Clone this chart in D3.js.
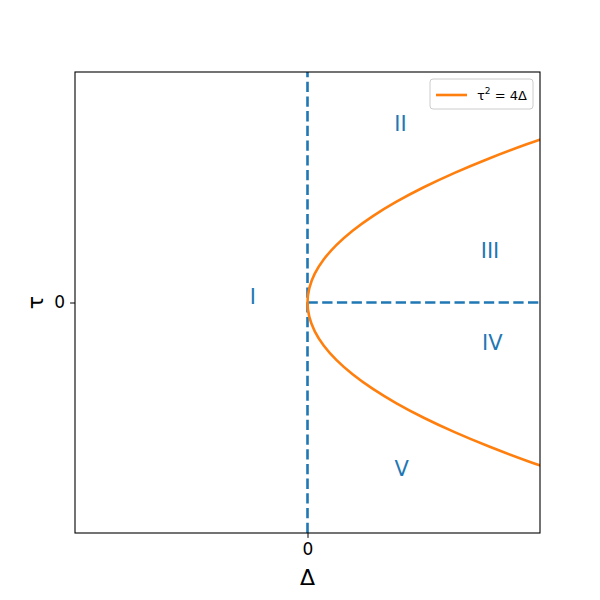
<!DOCTYPE html>
<html>
<head>
<meta charset="utf-8">
<script src="https://cdn.jsdelivr.net/npm/d3@7"></script>
<style>
  body { margin: 0; background: #fff; }
  text { font-family: "DejaVu Sans", sans-serif; }
</style>
</head>
<body>
<svg id="chart" width="600" height="600"></svg>
<script>
// axis domains and ticks
const deltaDomain = [-2, 2];
const tauDomain = [-4, 4];
const xTicks = [0];
const yTicks = [0];

// region labels with their (delta, tau) positions
const regionNames = ["I", "II", "III", "IV", "V"];
const regionDelta = [-0.47, 0.8, 1.57, 1.59, 0.81];
const regionTau = [0.1, 3.1, 0.9, -0.7, -2.88];

// tau sample points for the curve tau^2 = 4*delta
const curveTau = [-4, -3.75, -3.5, -3.25, -3, -2.75, -2.5, -2.25, -2, -1.75, -1.5,
  -1.25, -1, -0.75, -0.5, -0.25, 0, 0.25, 0.5, 0.75, 1, 1.25, 1.5, 1.75, 2,
  2.25, 2.5, 2.75, 3, 3.25, 3.5, 3.75, 4];

const svg = d3.select("#chart");
const margin = { top: 72, right: 60, bottom: 67, left: 75 };
const width = 600;
const height = 600;

const x = d3.scaleLinear()
  .domain(deltaDomain)
  .range([margin.left, width - margin.right]);

const y = d3.scaleLinear()
  .domain(tauDomain)
  .range([height - margin.bottom, margin.top]);

const blue = "#1f77b4";
const orange = "#ff7f0e";

svg.append("clipPath")
  .attr("id", "clip")
  .append("rect")
  .attr("x", margin.left)
  .attr("y", margin.top)
  .attr("width", width - margin.left - margin.right)
  .attr("height", height - margin.top - margin.bottom);

const inner = svg.append("g").attr("clip-path", "url(#clip)");

// dashed lines: delta = 0, and tau = 0 for delta > 0
inner.append("line")
  .attr("x1", x(0)).attr("x2", x(0))
  .attr("y1", y(tauDomain[0])).attr("y2", y(tauDomain[1]))
  .attr("stroke", blue)
  .attr("stroke-width", 2.6)
  .attr("stroke-dasharray", "10.3,4.4");

inner.append("line")
  .attr("x1", x(0)).attr("x2", x(deltaDomain[1]))
  .attr("y1", y(0)).attr("y2", y(0))
  .attr("stroke", blue)
  .attr("stroke-width", 2.6)
  .attr("stroke-dasharray", "10.3,4.4");

// parabola
const line = d3.line()
  .x((t) => x((t * t) / 4))
  .y((t) => y(t))
  .curve(d3.curveCatmullRom.alpha(0.5));

inner.append("path")
  .datum(curveTau)
  .attr("d", line)
  .attr("fill", "none")
  .attr("stroke", orange)
  .attr("stroke-width", 2.6);

// region labels
inner.selectAll(".region")
  .data(regionNames)
  .join("text")
  .attr("class", "region")
  .attr("x", (d, i) => x(regionDelta[i]))
  .attr("y", (d, i) => y(regionTau[i]))
  .attr("dy", "0.36em")
  .attr("text-anchor", "middle")
  .attr("fill", blue)
  .style("font-size", "21px")
  .text((d) => d);

// axes
svg.append("g")
  .attr("transform", `translate(0,${height - margin.bottom})`)
  .call(d3.axisBottom(x).tickValues(xTicks).tickFormat(d3.format("d")).tickSizeOuter(0).tickSize(4.9).tickPadding(5))
  .call((g) => g.select(".domain").remove())
  .call((g) => g.selectAll("text").style("font-size", "17px").attr("fill", "#000").attr("font-family", "DejaVu Sans"));

svg.append("g")
  .attr("transform", `translate(${margin.left},0)`)
  .call(d3.axisLeft(y).tickValues(yTicks).tickFormat(d3.format("d")).tickSizeOuter(0).tickSize(4.9).tickPadding(5))
  .call((g) => g.select(".domain").remove())
  .call((g) => g.selectAll("text").style("font-size", "17px").attr("fill", "#000").attr("font-family", "DejaVu Sans"));

// frame
svg.append("rect")
  .attr("x", margin.left)
  .attr("y", margin.top)
  .attr("width", width - margin.left - margin.right)
  .attr("height", height - margin.top - margin.bottom)
  .attr("fill", "none")
  .attr("stroke", "#000")
  .attr("stroke-width", 1.1);

// axis labels
svg.append("text")
  .attr("x", x(0))
  .attr("y", 585)
  .attr("text-anchor", "middle")
  .style("font-size", "22px")
  .text("Δ");

svg.append("text")
  .attr("transform", `translate(43,${y(0)}) rotate(-90)`)
  .attr("text-anchor", "middle")
  .style("font-size", "22px")
  .text("τ");

// legend
const legend = svg.append("g").attr("transform", "translate(430,79)");
legend.append("rect")
  .attr("width", 103)
  .attr("height", 30)
  .attr("rx", 3)
  .attr("fill", "#fff")
  .attr("stroke", "#ccc");
legend.append("line")
  .attr("x1", 6).attr("x2", 37)
  .attr("y1", 16).attr("y2", 16)
  .attr("stroke", orange)
  .attr("stroke-width", 2.6);
const lt = legend.append("text")
  .attr("x", 47)
  .attr("y", 21)
  .style("font-size", "13px");
lt.append("tspan").text("τ");
lt.append("tspan").attr("dy", -6).style("font-size", "9px").text("2");
lt.append("tspan").attr("dy", 6).text(" = 4Δ");
</script>
</body>
</html>
